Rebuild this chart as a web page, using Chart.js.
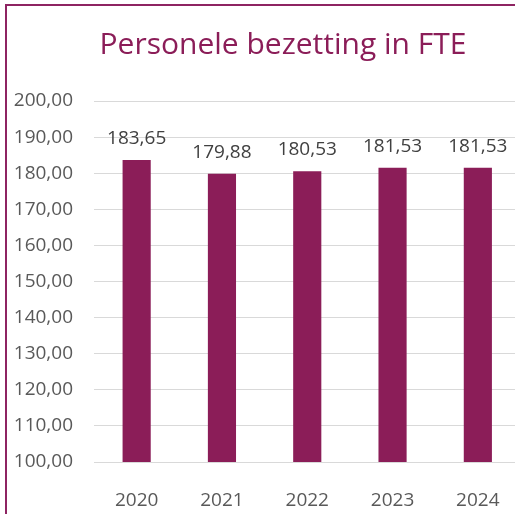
<!DOCTYPE html>
<html>
<head>
<meta charset="utf-8">
<script src="https://cdn.jsdelivr.net/npm/chart.js@4/dist/chart.umd.min.js"></script>
<style>
html,body{margin:0;padding:0;background:#fff;overflow:hidden;width:515px;height:514px;}
#wrap{position:absolute;left:0;top:0;width:522px;height:514px;}
</style>
</head>
<body>
<div id="wrap"><canvas id="c" width="522" height="514"></canvas></div>
<script>
const titleText = 'Personele bezetting in FTE';
const categories = ['2020', '2021', '2022', '2023', '2024'];
const values = [183.65, 179.88, 180.53, 181.53, 181.53];
const yMin = 100, yMax = 200, yStep = 10;

const barColor = '#8B1D58';
const fmt = v => v.toFixed(2).replace('.', ',');
const FONT = '"Open Sans", "Noto Sans", sans-serif';

const framePlugin = {
  id: 'frame',
  beforeDraw(chart) {
    const ctx = chart.ctx;
    ctx.save();
    ctx.fillStyle = '#fff';
    ctx.fillRect(0, 0, chart.width, chart.height);
    ctx.strokeStyle = '#8E2462';
    ctx.lineWidth = 2;
    ctx.beginPath();
    ctx.moveTo(6, chart.height);
    ctx.lineTo(6, 5);
    ctx.lineTo(chart.width, 5);
    ctx.stroke();
    ctx.restore();
  },
  afterDraw(chart) {
    const ctx = chart.ctx;
    ctx.save();
    ctx.fillStyle = '#8B1D58';
    ctx.font = '30px ' + FONT;
    ctx.textAlign = 'center';
    ctx.textBaseline = 'middle';
    ctx.fillText(titleText, 283, 45);
    // data labels
    const meta = chart.getDatasetMeta(0);
    ctx.fillStyle = '#404040';
    ctx.font = '19px ' + FONT;
    ctx.textBaseline = 'alphabetic';
    meta.data.forEach((bar, i) => {
      ctx.fillText(fmt(chart.data.datasets[0].data[i]), bar.x, bar.y - 16);
    });
    ctx.restore();
  }
};

new Chart(document.getElementById('c'), {
  type: 'bar',
  data: {
    labels: categories,
    datasets: [{
      data: values,
      backgroundColor: barColor,
      borderWidth: 0,
      categoryPercentage: 1,
      barPercentage: 0.33
    }]
  },
  options: {
    responsive: false,
    animation: false,
    devicePixelRatio: 1,
    layout: { padding: { top: 101, left: 0, right: 1.5, bottom: 0 } },
    plugins: { legend: { display: false }, title: { display: false }, tooltip: { enabled: false } },
    scales: {
      x: {
        grid: { display: false },
        border: { display: false },
        ticks: { color: '#595959', font: { family: FONT, size: 19 }, padding: 19 },
        afterFit(s) { s.height = 52; }
      },
      y: {
        min: yMin, max: yMax,
        grid: { color: '#D9D9D9', lineWidth: 1, drawTicks: false },
        border: { display: false },
        ticks: {
          stepSize: yStep,
          color: '#595959',
          font: { family: FONT, size: 19 },
          padding: 21,
          callback: v => fmt(v)
        },
        afterFit(s) { s.width = 94; }
      }
    }
  },
  plugins: [framePlugin]
});
</script>
</body>
</html>
